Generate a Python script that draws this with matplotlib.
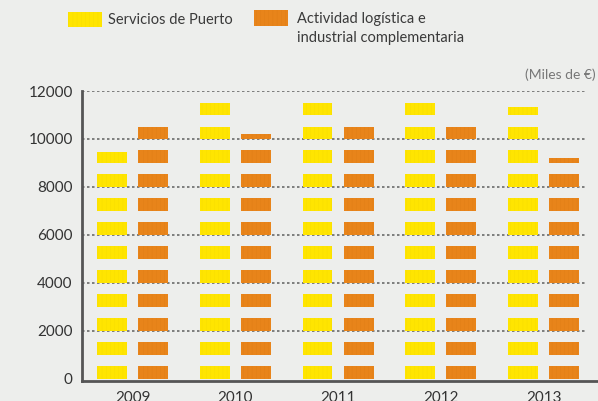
import numpy as np
import matplotlib
matplotlib.use("Agg")
import matplotlib.pyplot as plt

years = ["2009", "2010", "2011", "2012", "2013"]
servicios_puerto = [9460, 11650, 11700, 11650, 11330]
actividad_logistica = [10600, 10200, 10650, 10650, 9200]

series_names = ["Servicios de Puerto", "Actividad logística e\nindustrial complementaria"]
colors = ["#FFE500", "#E8841A"]
hatch_colors = ["#F6DC00", "#E07D16"]

BG = "#EDEEEC"
STEP = 1000
BLOCK = 520

plt.rcParams['font.family'] = ['Lato', 'DejaVu Sans']
plt.rcParams['hatch.linewidth'] = 0.3

fig = plt.figure(figsize=(5.98, 4.01), dpi=100, facecolor=BG)
ax = fig.add_axes([81.7 / 598, 0.0506, (597 - 81.7) / 598, 0.7224])
ax.set_facecolor(BG)

x = np.arange(len(years))
width = 0.29
offsets = [-0.2, 0.2]

def draw_blocks(xpos, values, color, hcolor):
    # each bar is cut into blocks of 1000, only the lower part of each is filled
    for xi, v in zip(xpos, values):
        n = int(np.ceil(v / STEP))
        bottoms = np.arange(n) * STEP
        heights = np.minimum(BLOCK, v - bottoms)
        ax.bar(np.full(n, xi), heights, width=width, bottom=bottoms,
               color=color, edgecolor=hcolor, linewidth=0, hatch="||||", zorder=3)

draw_blocks(x + offsets[0], servicios_puerto, colors[0], hatch_colors[0])
draw_blocks(x + offsets[1], actividad_logistica, colors[1], hatch_colors[1])

ax.set_xlim(-0.495, 4.52)
ax.set_ylim(-85, 12000)

for yv in range(2000, 12001, 2000):
    ax.hlines(yv, -0.495, 4.42, colors="#6a6a6a", linewidth=1.2,
              linestyles=(0, (1.5, 1.5)), zorder=2)

ax.set_yticks(range(0, 12001, 2000))
ax.set_yticklabels([str(v) for v in range(0, 12001, 2000)])
ax.set_xticks(x)
ax.set_xticklabels(years)
ax.tick_params(axis="y", length=0, pad=6.5, labelsize=11, labelcolor="#333333")
ax.tick_params(axis="x", length=0, pad=7.5, labelsize=11, labelcolor="#333333")

for s in ["top", "right"]:
    ax.spines[s].set_visible(False)
for s in ["left", "bottom"]:
    ax.spines[s].set_color("#555555")
    ax.spines[s].set_linewidth(2)

fig.text(596 / 598, 1 - 75 / 401, "(Miles de €)", ha="right", va="center",
         fontsize=10, color="#777777")

# legend
fig.patches.append(matplotlib.patches.Rectangle((68 / 598, 1 - 27 / 401), 34 / 598, 15 / 401,
                   transform=fig.transFigure, facecolor=colors[0], edgecolor=hatch_colors[0],
                   linewidth=0, hatch="||||"))
fig.patches.append(matplotlib.patches.Rectangle((254 / 598, 1 - 26 / 401), 34 / 598, 16 / 401,
                   transform=fig.transFigure, facecolor=colors[1], edgecolor=hatch_colors[1],
                   linewidth=0, hatch="||||"))
fig.text(108 / 598, 1 - 20 / 401, series_names[0], ha="left", va="center",
         fontsize=10.5, color="#3a3a3a")
fig.text(297 / 598, 1 - 28.5 / 401, series_names[1], ha="left", va="center",
         fontsize=10.5, color="#3a3a3a", linespacing=1.45)

fig.savefig("out.png", dpi=100, facecolor=BG)
